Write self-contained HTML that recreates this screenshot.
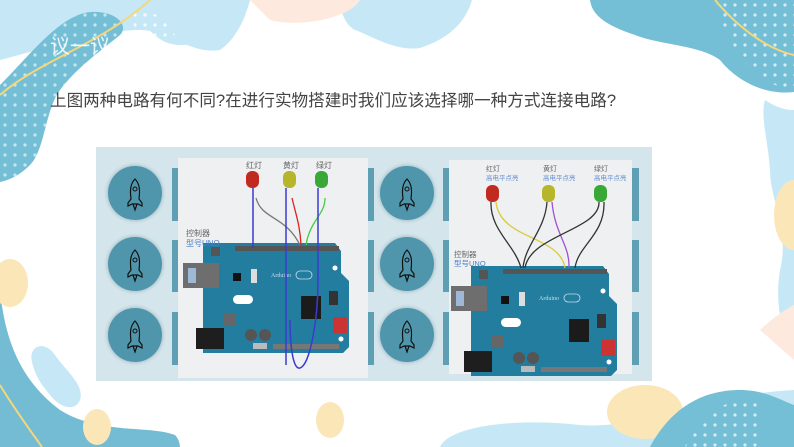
<!DOCTYPE html>
<html><head><meta charset="utf-8"><style>
html,body{margin:0;padding:0;background:#fff;}
body{width:794px;height:447px;overflow:hidden;position:relative;font-family:"Liberation Sans","Noto Sans CJK SC",sans-serif;}
svg{position:absolute;left:0;top:0;}
</style></head><body>
<svg width="794" height="447" viewBox="0 0 794 447" xmlns="http://www.w3.org/2000/svg">
<defs>
<pattern id="dots" width="10" height="10" patternUnits="userSpaceOnUse"><circle cx="5" cy="5" r="1.6" fill="#fff"/></pattern>
<radialGradient id="sh"><stop offset="0.8" stop-color="#7a9aa6" stop-opacity="0.6"/><stop offset="1" stop-color="#d4e5ec" stop-opacity="0"/></radialGradient>
<g id="board">
  <path d="M0,0 H132 L138,8 V30 L146,38 V104 L140,110 H0 Z" fill="#237d9f"/>
  <rect x="-20" y="20" width="36" height="25" fill="#6e6e6e"/>
  <rect x="-15" y="25" width="8" height="15" fill="#9fb8d8"/>
  <rect x="-7" y="85" width="28" height="21" fill="#1e1e1e"/>
  <rect x="20" y="70" width="12" height="12" fill="#666"/>
  <rect x="8" y="4" width="9" height="9" fill="#555"/>
  <rect x="32" y="3" width="104" height="5" fill="#555"/>
  <rect x="98" y="53" width="20" height="23" fill="#1b1b1b"/>
  <rect x="30" y="30" width="8" height="8" fill="#111"/>
  <rect x="48" y="26" width="6" height="14" fill="#ddd"/>
  <rect x="30" y="52" width="20" height="9" rx="4.5" fill="#fff"/>
  <circle cx="48" cy="92" r="6" fill="#555"/><circle cx="62" cy="92" r="6" fill="#555"/>
  <rect x="50" y="100" width="14" height="6" fill="#bbb"/>
  <rect x="70" y="101" width="66" height="5" fill="#777"/>
  <rect x="130" y="74" width="14" height="16" fill="#c33"/>
  <rect x="126" y="48" width="9" height="14" fill="#333"/>
  <circle cx="138" cy="96" r="2.5" fill="#fff"/><circle cx="132" cy="25" r="2.5" fill="#fff"/>
  <text x="68" y="34" font-size="6" fill="#cde" font-family="Liberation Serif,serif">Arduino</text>
  <rect x="93" y="28" width="16" height="8" rx="4" fill="none" stroke="#cde" stroke-width="0.8"/>
</g>
<g id="rocket">
  <circle r="32" fill="url(#sh)"/>
  <circle r="27" fill="#4f96ac"/>
  <path d="M0,-14 C5,-9 5,-2 4,6 L7,10 V13 L3,11 H-3 L-7,13 V10 L-4,6 C-5,-2 -5,-9 0,-14 Z M-2,11 L0,17 L2,11" fill="none" stroke="#111" stroke-width="1.2"/>
  <circle cy="-4" r="2" fill="none" stroke="#111" stroke-width="1"/>
</g>
</defs>
<!-- top light blue -->
<path d="M0,0 H250 C245,20 235,40 220,50 C190,55 170,30 140,30 C100,30 40,50 0,60 Z" fill="#c6e8f6"/>
<path d="M130,0 H250 C240,30 210,45 180,45 C160,45 145,30 130,0 Z" fill="#c6e8f6"/>
<path d="M340,0 H472 C465,25 445,40 420,48 C395,52 370,35 355,30 C345,25 340,10 340,0 Z" fill="#c6e8f6"/>
<path d="M250,0 H360 C350,18 300,28 270,20 Z" fill="#fde9de"/>
<!-- top-left dark blob -->
<path d="M0,85 C30,55 60,15 90,12 C115,10 130,25 120,35 C95,55 75,70 60,90 C45,110 45,150 30,165 C20,175 10,180 0,182 Z" fill="#74bfd6"/>
<path d="M0,85 C30,55 60,15 90,12 C115,10 130,25 120,35 C95,55 75,70 60,90 C45,110 45,150 30,165 C20,175 10,180 0,182 Z" fill="url(#dots)" opacity="0.6"/>
<path d="M130,10 C145,5 170,20 175,35 C160,40 145,35 135,30 Z" fill="url(#dots)" opacity="0.8"/>
<path d="M0,95 C40,60 100,45 150,0" fill="none" stroke="#f5d77a" stroke-width="2"/>
<!-- bottom-left -->
<path d="M0,290 C5,340 20,380 60,410 C100,435 150,425 175,435 C180,440 180,447 180,447 H0 Z" fill="#73bcd3"/>
<path d="M0,385 C15,410 30,430 42,447" fill="none" stroke="#f5d77a" stroke-width="2"/>
<path d="M32,362 C28,345 45,340 55,355 C65,370 85,385 80,400 C75,412 60,408 50,395 C40,383 35,375 32,362 Z" fill="#c6e8f6"/>
<ellipse cx="10" cy="283" rx="18" ry="24" fill="#fbe6b8"/>
<ellipse cx="97" cy="427" rx="14" ry="18" fill="#fbe6b8"/>
<ellipse cx="330" cy="420" rx="14" ry="18" fill="#fbe6b8"/>
<!-- top right -->
<path d="M590,0 H794 V92 C770,95 740,85 720,60 C700,45 660,45 635,35 C605,25 592,15 590,0 Z" fill="#74bfd6"/>
<path d="M715,0 H794 V90 C760,85 730,60 715,0 Z" fill="url(#dots)" opacity="0.7"/>
<path d="M715,0 C740,30 770,50 794,55" fill="none" stroke="#f5d77a" stroke-width="2"/>
<path d="M765,100 C780,110 790,110 794,110 V350 C780,330 775,300 780,270 C790,230 770,200 770,170 C768,140 760,115 765,100 Z" fill="#c6e8f6"/>
<ellipse cx="794" cy="215" rx="20" ry="35" fill="#fbe6b8"/>
<path d="M760,330 C775,315 794,305 794,305 V360 Z" fill="#fde9de"/>
<!-- bottom right -->
<path d="M440,447 C450,425 520,418 580,425 C640,430 700,395 794,390 V447 Z" fill="#c6e8f6"/>
<ellipse cx="645" cy="412" rx="38" ry="27" fill="#fbe6b8"/>
<path d="M650,447 C670,410 700,390 740,390 C765,390 780,400 794,405 V447 Z" fill="#74bfd6"/>
<path d="M685,447 C695,420 720,398 760,398 V447 Z" fill="url(#dots)" opacity="0.7"/>
<!-- title texts -->
<text x="50" y="53" font-size="20" fill="#fff" opacity="0.85" font-family="Liberation Sans,Noto Sans CJK SC,sans-serif">议一议</text>
<text x="50" y="106" font-size="16.6" fill="#444" font-family="Liberation Sans,Noto Sans CJK SC,sans-serif">上图两种电路有何不同?在进行实物搭建时我们应该选择哪一种方式连接电路?</text>
<!-- panel -->
<rect x="96" y="147" width="556" height="234" fill="#d4e5ec"/>
<rect x="178" y="158" width="190" height="220" fill="#eef0f1"/>
<rect x="449" y="160" width="183" height="214" fill="#eef0f1"/>
<g fill="#5e9fb4">
<rect x="172" y="168" width="6" height="53"/><rect x="172" y="240" width="6" height="52"/><rect x="172" y="312" width="6" height="53"/>
<rect x="368" y="168" width="6" height="53"/><rect x="368" y="240" width="6" height="52"/><rect x="368" y="312" width="6" height="53"/>
<rect x="443" y="168" width="6" height="53"/><rect x="443" y="240" width="6" height="52"/><rect x="443" y="312" width="6" height="53"/>
<rect x="632" y="168" width="7" height="53"/><rect x="632" y="240" width="7" height="52"/><rect x="632" y="312" width="7" height="53"/>
</g>
<use href="#rocket" x="135" y="193"/><use href="#rocket" x="135" y="264"/><use href="#rocket" x="135" y="335"/>
<use href="#rocket" x="407" y="193"/><use href="#rocket" x="407" y="264"/><use href="#rocket" x="407" y="335"/>
<!-- left circuit -->
<use href="#board" x="203" y="243"/>
<text x="186" y="236" font-size="8" fill="#666">控制器</text>
<text x="186" y="246" font-size="8" fill="#4a7fc8">型号UNO</text>
<text x="246" y="168" font-size="8" fill="#666">红灯</text>
<text x="283" y="168" font-size="8" fill="#666">黄灯</text>
<text x="316" y="168" font-size="8" fill="#666">绿灯</text>
<rect x="246" y="171" width="13" height="17" rx="6" fill="#c02a1f"/>
<rect x="283" y="171" width="13" height="17" rx="6" fill="#b7b52a"/>
<rect x="315" y="171" width="13" height="17" rx="6" fill="#3aa836"/>
<path d="M253,188 V248" stroke="#3b3bd0" stroke-width="1.5" fill="none"/>
<path d="M256,198 C262,220 285,215 300,245" stroke="#777" stroke-width="1.3" fill="none"/>
<path d="M286,188 V365" stroke="#3b3bd0" stroke-width="1.5" fill="none"/>
<path d="M292,198 C296,215 300,225 301,245" stroke="#d22" stroke-width="1.3" fill="none"/>
<path d="M325,198 C325,215 310,220 306,245" stroke="#4c4" stroke-width="1.3" fill="none"/>
<path d="M318,188 V280 C318,320 310,365 300,368 C292,370 290,340 290,320" stroke="#3b3bd0" stroke-width="1.5" fill="none"/>
<!-- right circuit -->
<use href="#board" x="471" y="266"/>
<text x="454" y="257" font-size="7.5" fill="#666">控制器</text>
<text x="454" y="266" font-size="7.5" fill="#4a7fc8">型号UNO</text>
<text x="486" y="171" font-size="7" fill="#666">红灯</text><text x="486" y="180" font-size="6.5" fill="#6a8fd0">高电平点亮</text>
<text x="543" y="171" font-size="7" fill="#666">黄灯</text><text x="543" y="180" font-size="6.5" fill="#6a8fd0">高电平点亮</text>
<text x="594" y="171" font-size="7" fill="#666">绿灯</text><text x="594" y="180" font-size="6.5" fill="#6a8fd0">高电平点亮</text>
<rect x="486" y="185" width="13" height="17" rx="6" fill="#c02a1f"/>
<rect x="542" y="185" width="13" height="17" rx="6" fill="#b7b52a"/>
<rect x="594" y="185" width="13" height="17" rx="6" fill="#3aa836"/>
<g fill="none" stroke-width="1.3">
<path d="M491,202 C490,230 515,245 521,268" stroke="#333"/>
<path d="M496,202 C500,240 560,235 565,268" stroke="#d8cc3a"/>
<path d="M547,202 C545,230 525,245 523,268" stroke="#333"/>
<path d="M552,202 C555,235 570,245 569,268" stroke="#a34fd1"/>
<path d="M599,202 C600,230 530,235 525,268" stroke="#333"/>
<path d="M604,202 C605,235 578,245 575,268" stroke="#333"/>
</g>
</svg>
</body></html>
